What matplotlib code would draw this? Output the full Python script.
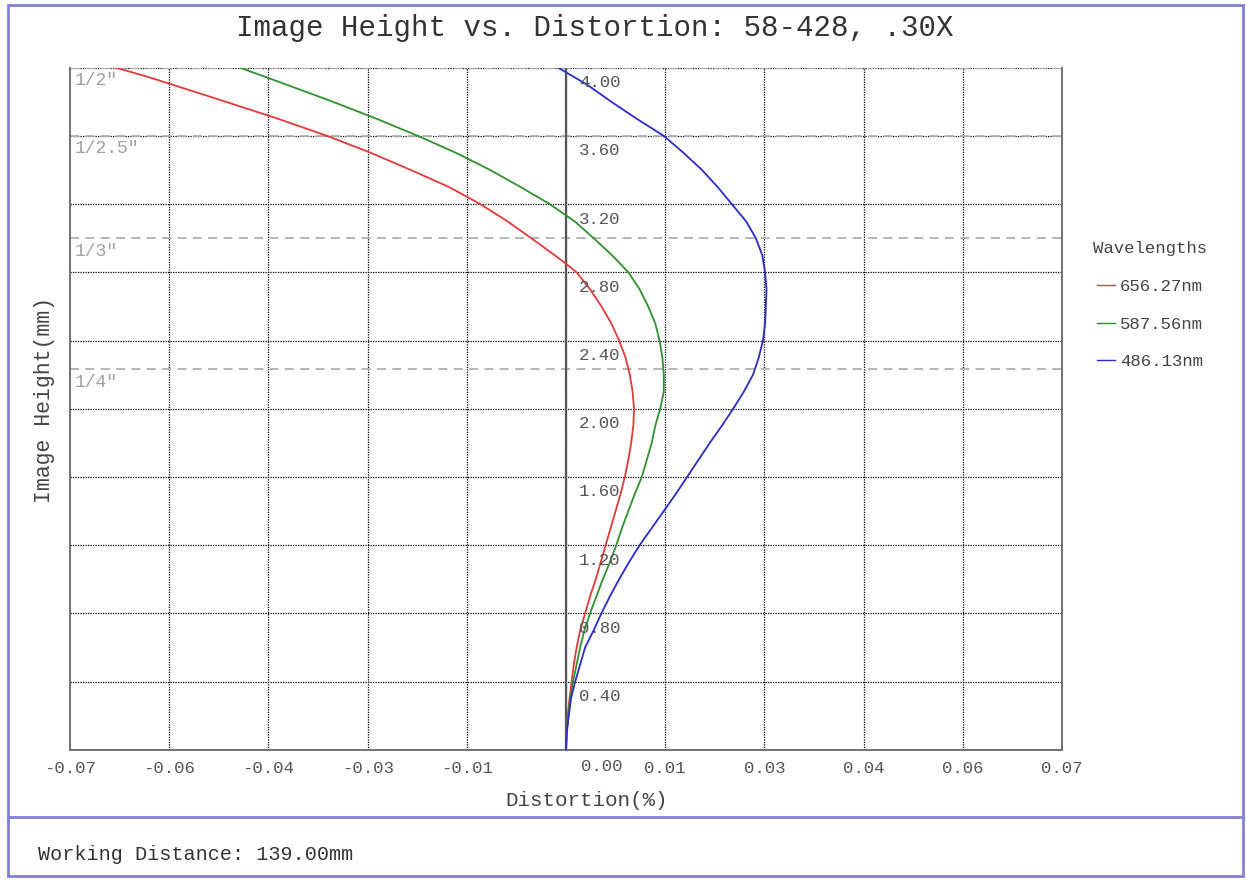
import matplotlib
matplotlib.use("Agg")
import matplotlib.pyplot as plt
from matplotlib.patches import Rectangle
from matplotlib.lines import Line2D

plt.rcParams["font.family"] = ["Liberation Mono", "DejaVu Sans Mono"]

# ---- data (height in mm, distortion in %) ----
red_h = [0.0, 0.1, 0.2, 0.3, 0.4, 0.5, 0.6, 0.7, 0.8, 0.9, 1.0, 1.1, 1.2,
         1.3, 1.4, 1.5, 1.6, 1.7, 1.8, 1.9, 2.0, 2.1, 2.2, 2.3, 2.4, 2.5,
         2.6, 2.7, 2.8, 2.85, 2.9, 3.0, 3.1, 3.2, 3.3, 3.4, 3.5, 3.6, 3.7,
         3.8, 3.9, 3.95, 4.0]
red_d = [0.0, 0.0001, 0.00025, 0.0005, 0.0008, 0.0011, 0.0015, 0.0020,
         0.0027, 0.0034, 0.0042, 0.0049, 0.0056, 0.0063, 0.0070, 0.0077,
         0.0083, 0.0088, 0.0092, 0.0095, 0.0096, 0.0094, 0.0090, 0.0084,
         0.0075, 0.0064, 0.0050, 0.0034, 0.0015, 0.0, -0.0016, -0.0049,
         -0.0083, -0.0121, -0.0165, -0.0219, -0.0275, -0.0337, -0.0406,
         -0.0480, -0.0555, -0.0593, -0.0635]

green_h = [0.0, 0.1, 0.2, 0.3, 0.4, 0.5, 0.6, 0.7, 0.8, 0.9, 1.0, 1.1, 1.2,
           1.3, 1.4, 1.5, 1.6, 1.7, 1.8, 1.9, 2.0, 2.1, 2.2, 2.3, 2.4, 2.5,
           2.6, 2.7, 2.8, 2.9, 3.0, 3.1, 3.2, 3.3, 3.4, 3.5, 3.6, 3.7, 3.8,
           3.9, 4.0]
green_d = [0.0, 0.0001, 0.0003, 0.0006, 0.0010, 0.0015, 0.0020, 0.0026,
           0.0034, 0.0043, 0.0052, 0.0062, 0.0071, 0.0079, 0.0088, 0.0097,
           0.0107, 0.0114, 0.0121, 0.0126, 0.0133, 0.0138, 0.0138, 0.0136,
           0.0132, 0.0126, 0.0116, 0.0104, 0.0088, 0.0065, 0.0039, 0.0012,
           -0.0023, -0.0064, -0.0107, -0.0155, -0.0209, -0.0267, -0.0329,
           -0.0394, -0.0460]

blue_h = [0.0, 0.1, 0.2, 0.3, 0.4, 0.5, 0.6, 0.7, 0.8, 0.9, 1.0, 1.1, 1.2,
          1.3, 1.4, 1.5, 1.6, 1.7, 1.8, 1.9, 2.0, 2.1, 2.2, 2.3, 2.4, 2.5,
          2.6, 2.7, 2.8, 2.9, 3.0, 3.1, 3.2, 3.3, 3.4, 3.5, 3.6, 3.7, 3.8,
          3.9, 4.0]
blue_d = [0.0, 0.0001, 0.0004, 0.0007, 0.0013, 0.0020, 0.0027, 0.0039,
          0.0050, 0.0062, 0.0075, 0.0089, 0.0104, 0.0121, 0.0138, 0.0155,
          0.0171, 0.0187, 0.0203, 0.0220, 0.0236, 0.0251, 0.0264, 0.0272,
          0.0278, 0.0281, 0.0282, 0.0283, 0.0281, 0.0277, 0.0268, 0.0254,
          0.0234, 0.0214, 0.0192, 0.0166, 0.0138, 0.0100, 0.0064, 0.0030,
          -0.0011]

series_labels = ["656.27nm", "587.56nm", "486.13nm"]
series_colors = ["#e03a3a", "#2f912f", "#2c2cc4"]

x_ticks = [-0.07, -0.056, -0.042, -0.028, -0.014, 0.0,
           0.014, 0.028, 0.042, 0.056, 0.07]
x_tick_labels = ["-0.07", "-0.06", "-0.04", "-0.03", "-0.01", "0.00",
                 "0.01", "0.03", "0.04", "0.06", "0.07"]
y_ticks = [0.4, 0.8, 1.2, 1.6, 2.0, 2.4, 2.8, 3.2, 3.6, 4.0]
y_tick_labels = ["0.40", "0.80", "1.20", "1.60", "2.00",
                 "2.40", "2.80", "3.20", "3.60", "4.00"]

sensor_labels = ['1/2"', '1/2.5"', '1/3"', '1/4"']
sensor_heights = [4.0, 3.6, 3.0, 2.23]

W, H = 1247, 881
fig = plt.figure(figsize=(W / 100, H / 100), dpi=100)
ax = fig.add_axes([70 / W, 1 - 749.7 / H, 992 / W, 682 / H])

ax.set_xlim(-0.07, 0.07)
ax.set_ylim(0, 4.0)

# dotted grid
for xv in x_ticks[1:-1]:
    ax.axvline(xv, color="black", lw=0.9, ls=(0, (1, 1)), zorder=1)
for yv in y_ticks:
    ax.axhline(yv, color="black", lw=0.9, ls=(0, (1, 1)), zorder=1)

# sensor-size markers
for lab, hv in zip(sensor_labels, sensor_heights):
    ax.axhline(hv, color="#b0b0b0", lw=1.3, ls=(0, (5, 3.5)), zorder=1.5)
    ax.annotate(lab, xy=(-0.07, hv), xytext=(5, -13), textcoords="offset pixels",
                ha="left", va="center", fontsize=13, color="#a0a0a0")

# centre axis
ax.axvline(0.0, color="#555555", lw=1.6, zorder=2)

for hs, ds, lab, col in zip([red_h, green_h, blue_h], [red_d, green_d, blue_d],
                            series_labels, series_colors):
    ax.plot(ds, hs, color=col, lw=1.3, label=lab, zorder=3)

for sp in ["left", "bottom", "right"]:
    ax.spines[sp].set_color("#666666")
    ax.spines[sp].set_linewidth(1.3)
ax.spines["top"].set_visible(False)

ax.set_xticks(x_ticks)
labels_shown = [("" if t == "0.00" else t) for t in x_tick_labels]
ax.set_xticklabels(labels_shown, fontsize=12.5, color="#555555")
ax.tick_params(axis="x", length=0, pad=8)
ax.set_yticks([])
ax.annotate("0.00", xy=(0.0, 0.0), xytext=(36, -17), textcoords="offset pixels",
            ha="center", va="center", fontsize=12.5, color="#555555",
            annotation_clip=False)

for yv, lab in zip(y_ticks, y_tick_labels):
    ax.annotate(lab, xy=(0.0, yv), xytext=(13, -15), textcoords="offset pixels",
                ha="left", va="center", fontsize=12.5, color="#555555")

fig.text(595 / W, 1 - 28 / H, "Image Height vs. Distortion: 58-428, .30X",
         ha="center", va="center", fontsize=21, color="#333333")
fig.text(587 / W, 1 - 800 / H, "Distortion(%)", ha="center", va="center",
         fontsize=15, color="#444444")
fig.text(45 / W, 1 - 400 / H, "Image Height(mm)", ha="center", va="center",
         rotation=90, fontsize=15.5, color="#444444")
fig.text(38 / W, 1 - 855 / H, "Working Distance: 139.00mm", ha="left",
         va="center", fontsize=14.5, color="#333333")

leg = fig.legend(loc="upper left", bbox_to_anchor=(1081 / W, 1 - 229 / H),
                 frameon=False, title="Wavelengths", fontsize=12.5,
                 title_fontsize=12.5, handlelength=1.0, handletextpad=0.3,
                 labelspacing=1.3, borderpad=0.2)
for t in leg.get_texts():
    t.set_color("#444444")
leg.get_title().set_color("#444444")
for ln in leg.get_lines():
    ln.set_linewidth(1.0)

# outer frame and footer separator
border = "#8080d4"
fig.patches.append(Rectangle((8 / W, 1 - 876 / H), 1235 / W, 871 / H,
                             transform=fig.transFigure, fill=False,
                             edgecolor=border, lw=2))
fig.lines.append(Line2D([8 / W, 1243 / W], [1 - 817 / H, 1 - 817 / H],
                        transform=fig.transFigure, color=border, lw=2))

fig.savefig("out.png", dpi=100)
